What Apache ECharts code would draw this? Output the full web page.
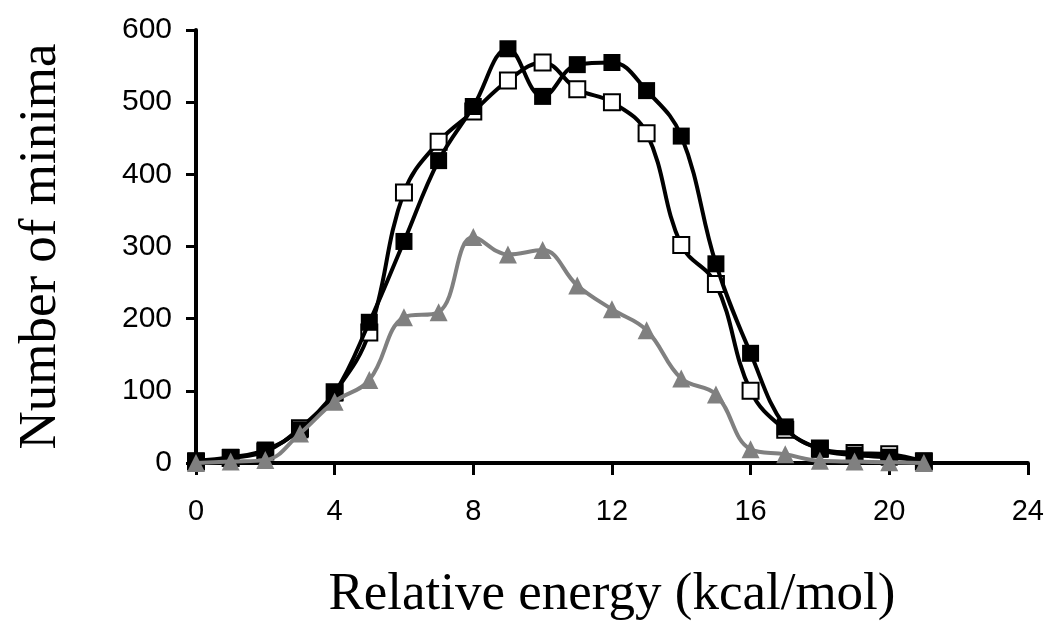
<!DOCTYPE html>
<html>
<head>
<meta charset="utf-8">
<script src="https://cdn.jsdelivr.net/npm/echarts@6/dist/echarts.min.js"></script>
<style>
html,body{margin:0;padding:0;background:#fff;}
#chart{width:1047px;height:627px;}
</style>
</head>
<body>
<div id="chart"></div>
<script>
// Relative energy (kcal/mol)
var energies = [0,1,2,3,4,5,6,7,8,9,10,11,12,13,14,15,16,17,18,19,20,21];
// filled squares
var filledSquares = [3,8,18,46,97,195,307,419,494,574,508,552,555,516,453,276,152,50,19,11,8,3];
// open squares
var openSquares = [2,7,16,48,98,181,375,445,487,530,555,518,500,457,302,248,100,46,20,14,12,2];
// grey triangles
var triangles = [0,2,4,41,85,115,202,209,313,289,295,246,213,184,117,95,19,12,3,2,1,0];
var xTicks = [0,4,8,12,16,20,24];
var yTicks = [0,100,200,300,400,500,600];

function pairs(vals){ return energies.map(function(e,i){ return [e, vals[i]]; }); }

var chart = echarts.init(document.getElementById('chart'), null, {renderer:'canvas'});
chart.setOption({
  animation:false,
  backgroundColor:'#ffffff',
  grid:{left:196,right:18,top:30,bottom:160,containLabel:false},
  xAxis:{
    type:'value', min:xTicks[0], max:xTicks[xTicks.length-1], interval:4,
    name:'Relative energy (kcal/mol)', nameLocation:'middle', nameGap:106,
    nameTextStyle:{fontFamily:'Liberation Serif', fontSize:53, color:'#000'},
    axisLine:{show:true, onZero:false, lineStyle:{color:'#000', width:4}},
    axisTick:{show:true, inside:false, length:12, lineStyle:{color:'#000', width:3}},
    axisLabel:{fontFamily:'Liberation Sans', fontSize:29, color:'#000', margin:34},
    splitLine:{show:false}
  },
  yAxis:{
    type:'value', min:yTicks[0], max:yTicks[yTicks.length-1], interval:100,
    name:'Number of minima', nameLocation:'middle', nameGap:128, nameRotate:90,
    nameTextStyle:{fontFamily:'Liberation Serif', fontSize:53, color:'#000'},
    axisLine:{show:true, lineStyle:{color:'#000', width:4}},
    axisTick:{show:true, inside:false, length:10, lineStyle:{color:'#000', width:3}},
    axisLabel:{fontFamily:'Liberation Sans', fontSize:30, color:'#000', margin:24},
    splitLine:{show:false}
  },
  series:[
    {
      name:'open', type:'line', data:pairs(openSquares), smooth:0.4,
      symbol:'rect', symbolSize:16,
      lineStyle:{color:'#000', width:4},
      itemStyle:{color:'#fff', borderColor:'#000', borderWidth:2},
      z:2
    },
    {
      name:'filled', type:'line', data:pairs(filledSquares), smooth:0.4,
      symbol:'rect', symbolSize:17,
      lineStyle:{color:'#000', width:4},
      itemStyle:{color:'#000', borderColor:'#000', borderWidth:0},
      z:3
    },
    {
      name:'triangles', type:'line', data:pairs(triangles), smooth:0.4,
      symbol:'triangle', symbolSize:18,
      lineStyle:{color:'#808080', width:4},
      itemStyle:{color:'#808080', borderWidth:0},
      z:4
    }
  ]
});
</script>
</body>
</html>
